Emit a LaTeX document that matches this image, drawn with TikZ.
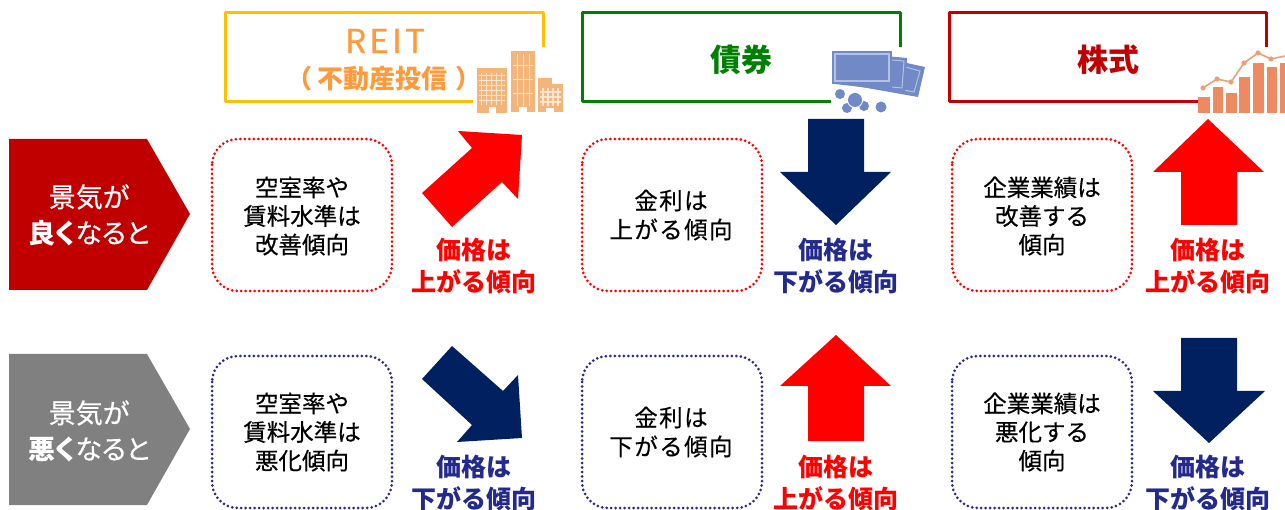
\documentclass[tikz,border=0pt]{standalone}
\usepackage{fontspec}
\setmainfont{Noto Sans CJK JP}[UprightFeatures={FakeBold=0.4},RawFeature={+palt}]
\newfontfamily\jpfull{Noto Sans CJK JP}[UprightFeatures={FakeBold=0.4}]
\definecolor{darkred}{HTML}{C00000}
\definecolor{navy}{HTML}{002060}
\definecolor{txtnavy}{HTML}{232A8C}
\definecolor{pure}{HTML}{FF0000}
\definecolor{amber}{HTML}{FFC000}
\definecolor{orangetxt}{HTML}{FF9A3C}
\definecolor{grn}{HTML}{008000}
\definecolor{dotnavy}{HTML}{2B2A8C}
\definecolor{bldg}{HTML}{F3B57A}
\definecolor{bldggrid}{HTML}{FCE6D0}
\definecolor{money}{HTML}{7189C6}
\definecolor{moneyline}{HTML}{B4C2E2}
\definecolor{chart}{HTML}{EE8A62}
\definecolor{chartline}{HTML}{E8A078}
\tikzset{
  x=1pt,y=-1pt,
  headbox/.style={line width=3pt,line join=round},
  good/.style={draw=pure,line width=3pt,dash pattern=on 0pt off 4.5pt,line cap=round,rounded corners=26pt},
  bad/.style={draw=dotnavy,line width=3pt,dash pattern=on 0pt off 4.5pt,line cap=round,rounded corners=26pt},
  body/.style={align=center,font=\jpfull\fontsize{23.5}{28.6}\selectfont,text=black,inner sep=0pt},
  wide/.style={align=center,font=\jpfull\fontsize{23.5}{29}\selectfont\addfontfeature{LetterSpace=6},text=black,inner sep=0pt},
  upt/.style={align=center,font=\jpfull\fontsize{25}{32.5}\bfseries\selectfont,text=pure,inner sep=0pt},
  dnt/.style={align=center,font=\jpfull\fontsize{25}{32.5}\bfseries\selectfont,text=txtnavy,inner sep=0pt},
  lab/.style={align=center,font=\fontsize{27}{36}\selectfont,text=white,inner sep=0pt},
}
\begin{document}
\begin{tikzpicture}
\useasboundingbox (0,0) rectangle (1285,510);
% heads
\draw[headbox,amber] (543,47)--(543,13)--(225,13)--(225,102)--(473,102);
\draw[headbox,grn] (900,47)--(900,13)--(582,13)--(582,102)--(831,102);
\draw[headbox,darkred] (1266,47)--(1266,13)--(949,13)--(949,102)--(1198,102);
\node[inner sep=0pt,text=orangetxt,font=\fontsize{33}{33}\selectfont\addfontfeature{LetterSpace=10}] (reit) at (385,41) {REIT};
\node[inner sep=0pt,text=orangetxt,font=\jpfull\fontsize{26}{26}\bfseries\selectfont] (reit2) at (384,79) {（\hspace{6pt}不動産投信\hspace{8pt}）};
\node[inner sep=0pt,text=grn,font=\jpfull\fontsize{31}{31}\bfseries\selectfont] (bond) at (741,60) {債券};
\node[inner sep=0pt,text=darkred,font=\jpfull\fontsize{31}{31}\bfseries\selectfont] (stock) at (1108,60) {株式};
% building icon
\fill[bldg] (477,68) rectangle (507,113);
\fill[bldg] (511,51) rectangle (535,112);
\fill[bldg] (538,84) rectangle (563,112);
\fill[bldg] (538,78) rectangle (552,86);
\foreach \x in {481,486,491,496,501}{\draw[bldggrid,line width=1pt] (\x,73)--(\x,105);}
\foreach \y in {76,81,86,91,96,101}{\draw[bldggrid,line width=1pt] (479,\y)--(505,\y);}
\foreach \x in {517,523,529}{\draw[bldggrid,line width=1pt] (\x,54)--(\x,106);}
\foreach \y in {65,79,93}{\draw[bldggrid,line width=.8pt] (513,\y)--(533,\y);}
\foreach \x in {543,548,553,558}{\draw[bldggrid,line width=1.2pt] (\x,88)--(\x,106);}
\foreach \y in {92,97,102}{\draw[bldggrid,line width=1.2pt] (540,\y)--(561,\y);}
\fill[white] (489,107) rectangle (496,113);
\fill[white] (519,107) rectangle (527,112);
\fill[white] (546,108) rectangle (554,112);
% money icon
\fill[money] (893,60) -- (925,67) -- (918,97) -- (850,85) -- cycle;
\draw[moneyline,line width=1pt] (902,66) -- (920,71) -- (914,92) -- (893,88);
\fill[money] (885,56) -- (907,58) -- (905,92) -- (835,84) -- cycle;
\draw[moneyline,line width=1pt] (892,60) -- (904,61) -- (902,88) -- (892,87);
\fill[money] (832,51) rectangle (892,84);
\draw[moneyline,line width=1.2pt] (835,54) rectangle (889,81);
\fill[money] (840,94) circle (5);
\fill[money] (864,106) circle (5);
\fill[money] (847,108) circle (5);
\fill[white] (855,100) circle (8);
\fill[money] (855,100) circle (7);
\fill[money] (881,107) circle (5.5);
% chart icon
\fill[chart] (1198,97) rectangle (1210,113);
\fill[chart] (1213,87) rectangle (1223,113);
\fill[chart] (1226,93) rectangle (1237,113);
\fill[chart] (1239,77) rectangle (1250,113);
\fill[chart] (1253,63) rectangle (1264,113);
\fill[chart] (1267,67) rectangle (1277,113);
\fill[chart] (1280,63) rectangle (1285,113);
\draw[chartline,line width=1.6pt] (1203,88)--(1217,79)--(1231,82)--(1244,63)--(1258,53)--(1271,59)--(1285,56);
\foreach \x/\y in {1203/88,1217/79,1231/82,1244/63,1258/53,1271/59}{\fill[chartline] (\x,\y) circle (2.6);}
% labels
\fill[darkred] (9,139)--(147,139)--(190,214)--(147,290)--(9,290)--cycle;
\fill[black!50] (9,354)--(147,354)--(190,429)--(147,505)--(9,505)--cycle;
\node[lab] (up) at (89,215) {景気が\\{\bfseries 良く}なると};
\node[lab] (down) at (89,431) {景気が\\{\bfseries 悪く}なると};
% boxes
\draw[good] (212,139) rectangle (392,291);
\draw[good] (582,139) rectangle (762,291);
\draw[good] (952,139) rectangle (1132,291);
\draw[bad] (212,356) rectangle (392,508);
\draw[bad] (582,356) rectangle (762,508);
\draw[bad] (952,356) rectangle (1132,508);
\node[body] (a1) at (302,216) {空室率や\\賃料水準は\\改善傾向};
\node[wide] (a2) at (671,215) {金利は\\上がる傾向};
\node[body] (a3) at (1042,216) {企業業績は\\改善する\\傾向};
\node[body] (b1) at (302,432) {空室率や\\賃料水準は\\悪化傾向};
\node[wide] (b2) at (671,432) {金利は\\下がる傾向};
\node[body] (b3) at (1042,432) {企業業績は\\悪化する\\傾向};
% arrows
\fill[pure] (452,227)--(422,193)--(472,148)--(458,131)--(522,135)--(518,199)--(502,182)--cycle;
\fill[navy] (808,119)--(864,119)--(864,172)--(891,172)--(836,225)--(780,172)--(808,172)--cycle;
\fill[pure] (1181,225)--(1237,225)--(1237,172)--(1264,172)--(1208,119)--(1153,172)--(1181,172)--cycle;
\fill[navy] (452,346)--(422,379)--(472,425)--(457,442)--(522,438)--(518,375)--(503,391)--cycle;
\fill[pure] (808,441)--(864,441)--(864,386)--(891,386)--(836,335)--(780,386)--(808,386)--cycle;
\fill[navy] (1181,338)--(1237,338)--(1237,391)--(1265,391)--(1209,443)--(1153,391)--(1181,391)--cycle;
\node[upt] (p1) at (474,266) {価格は\\上がる傾向};
\node[dnt] (p2) at (836,266) {価格は\\下がる傾向};
\node[upt] (p3) at (1208,266) {価格は\\上がる傾向};
\node[dnt] (q1) at (474,483) {価格は\\下がる傾向};
\node[upt] (q2) at (836,483) {価格は\\上がる傾向};
\node[dnt] (q3) at (1208,483) {価格は\\下がる傾向};
\end{tikzpicture}
\end{document}
